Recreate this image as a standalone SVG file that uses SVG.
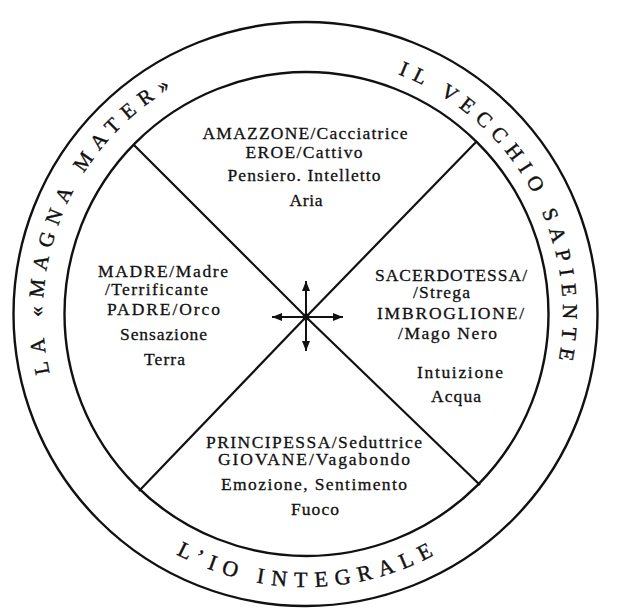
<svg xmlns="http://www.w3.org/2000/svg" width="620" height="608" viewBox="0 0 620 608">
<style>
.c{fill:none;stroke:#111;stroke-width:2.4}
.ln{stroke:#111;stroke-width:2.2;fill:none}
.ar{stroke:#111;stroke-width:2;fill:none}
.t{font-family:"Liberation Serif","Times New Roman",serif;font-size:17.5px;fill:#111;stroke:#111;stroke-width:0.3;text-anchor:middle}
.r{font-family:"Liberation Serif","Times New Roman",serif;font-size:21px;fill:#111;stroke:#111;stroke-width:0.4}
</style>
<defs>
<marker id="ah" viewBox="0 0 10 8" refX="10" refY="4" markerWidth="10" markerHeight="8" markerUnits="userSpaceOnUse" orient="auto">
<path d="M0,0 L10,4 L0,8 Z" fill="#111"/>
</marker>
<path id="pL" d="M49.7,373.2 A263,263 0 0 1 194.8,75.6"/>
<path id="pR" d="M398.1,74.1 A257,257 0 0 1 554.2,380.5"/>
<path id="pB" d="M176.2,554.1 A273,273 0 0 0 462.6,537.6"/>
</defs>
<rect width="620" height="608" fill="#fff"/>
<g id="rings">
<circle class="c" cx="305.5" cy="314" r="292"/>
<circle class="c" cx="306.5" cy="314" r="242"/>
</g>
<g id="connectors">
<line class="ln" x1="306" y1="317" x2="134" y2="145"/>
<line class="ln" x1="306" y1="317" x2="477" y2="141"/>
<line class="ln" x1="306" y1="317" x2="480" y2="485"/>
<line class="ln" x1="306" y1="317" x2="139" y2="491"/>
<line class="ar" x1="306" y1="317" x2="306" y2="281" marker-end="url(#ah)"/>
<line class="ar" x1="306" y1="317" x2="306" y2="351" marker-end="url(#ah)"/>
<line class="ar" x1="306" y1="317" x2="272" y2="317" marker-end="url(#ah)"/>
<line class="ar" x1="306" y1="317" x2="343" y2="317" marker-end="url(#ah)"/>
<circle cx="306" cy="317" r="3.4" fill="#111"/>
</g>
<g id="ring-left">
<text class="r" letter-spacing="8.2"><textPath href="#pL">LA «MAGNA MATER»</textPath></text>
</g>
<g id="ring-right">
<text class="r" letter-spacing="7.4"><textPath href="#pR">IL VECCHIO SAPIENTE</textPath></text>
</g>
<g id="ring-bottom">
<text class="r" style="font-size:22px" letter-spacing="7.5"><textPath href="#pB">L’IO INTEGRALE</textPath></text>
</g>
<g id="sector-top">
<text class="t" x="305" y="139" textLength="205" lengthAdjust="spacing">AMAZZONE/Cacciatrice</text>
<text class="t" x="304" y="157.5" textLength="117" lengthAdjust="spacing">EROE/Cattivo</text>
<text class="t" x="304" y="180.5" textLength="153" lengthAdjust="spacing">Pensiero. Intelletto</text>
<text class="t" x="306" y="205.5" textLength="33" lengthAdjust="spacing">Aria</text>
</g>
<g id="sector-left">
<text class="t" x="163" y="276.5" textLength="130" lengthAdjust="spacing">MADRE/Madre</text>
<text class="t" x="156.5" y="295" textLength="103" lengthAdjust="spacing">/Terrificante</text>
<text class="t" x="163.5" y="315" textLength="113" lengthAdjust="spacing">PADRE/Orco</text>
<text class="t" x="163.5" y="340" textLength="87" lengthAdjust="spacing">Sensazione</text>
<text class="t" x="164.5" y="365" textLength="41" lengthAdjust="spacing">Terra</text>
</g>
<g id="sector-right">
<text class="t" x="451" y="281" textLength="152" lengthAdjust="spacing">SACERDOTESSA/</text>
<text class="t" x="441.5" y="298" textLength="57" lengthAdjust="spacing">/Strega</text>
<text class="t" x="450.5" y="319" textLength="147" lengthAdjust="spacing">IMBROGLIONE/</text>
<text class="t" x="447.5" y="338.5" textLength="99" lengthAdjust="spacing">/Mago Nero</text>
<text class="t" x="460" y="377.5" textLength="86" lengthAdjust="spacing">Intuizione</text>
<text class="t" x="456" y="401.5" textLength="50" lengthAdjust="spacing">Acqua</text>
</g>
<g id="sector-bottom">
<text class="t" x="314" y="448" textLength="216" lengthAdjust="spacing">PRINCIPESSA/Seduttrice</text>
<text class="t" x="314" y="465" textLength="192" lengthAdjust="spacing">GIOVANE/Vagabondo</text>
<text class="t" x="314" y="490" textLength="186" lengthAdjust="spacing">Emozione, Sentimento</text>
<text class="t" x="315" y="515" textLength="48" lengthAdjust="spacing">Fuoco</text>
</g>
</svg>
